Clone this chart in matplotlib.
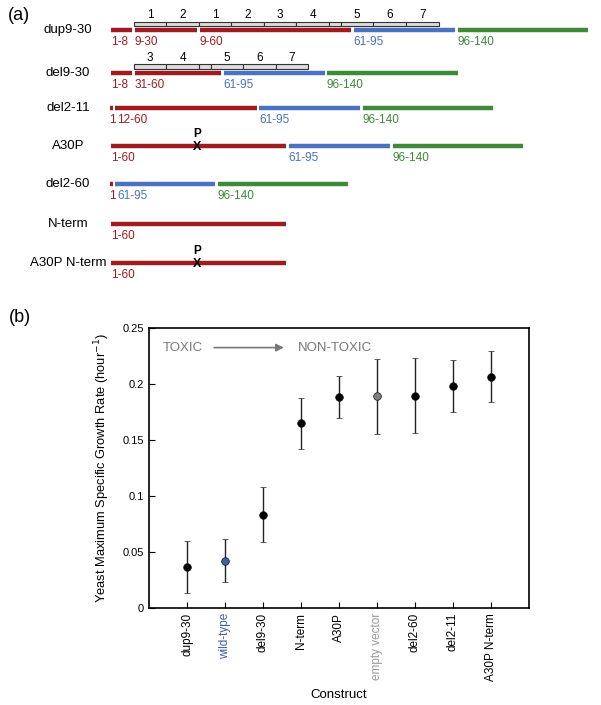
import matplotlib.pyplot as plt
from matplotlib.patches import Rectangle

plt.rcParams['font.family'] = ['Liberation Sans', 'DejaVu Sans']

red = '#9e1c20'
blue = '#4a72c0'
green = '#3d8b37'

# (a) constructs: residue ranges in order, with the label shown under each piece
construct_names = ['dup9-30', 'del9-30', 'del2-11', 'A30P', 'del2-60', 'N-term', 'A30P N-term']
construct_parts = {
    'dup9-30': [(1, 8, '1-8'), (9, 30, '9-30'), (9, 60, '9-60'), (61, 95, '61-95'), (96, 140, '96-140')],
    'del9-30': [(1, 8, '1-8'), (31, 60, '31-60'), (61, 95, '61-95'), (96, 140, '96-140')],
    'del2-11': [(1, 1, '1'), (12, 60, '12-60'), (61, 95, '61-95'), (96, 140, '96-140')],
    'A30P': [(1, 60, '1-60'), (61, 95, '61-95'), (96, 140, '96-140')],
    'del2-60': [(1, 1, '1'), (61, 95, '61-95'), (96, 140, '96-140')],
    'N-term': [(1, 60, '1-60')],
    'A30P N-term': [(1, 60, '1-60')],
}
# 11-residue repeats (blank one is the gap between 4 and 5)
repeats = [('1', 9, 19), ('2', 20, 30), ('3', 31, 41), ('4', 42, 52), ('', 53, 56),
           ('5', 57, 67), ('6', 68, 78), ('7', 79, 89)]
show_repeats = ['dup9-30', 'del9-30']
mutations = {'A30P': 30, 'A30P N-term': 30}

# (b) growth rates
constructs = ['dup9-30', 'wild-type', 'del9-30', 'N-term', 'A30P', 'empty vector',
              'del2-60', 'del2-11', 'A30P N-term']
growth = [0.0365, 0.042, 0.0833, 0.165, 0.188, 0.189, 0.1896, 0.198, 0.2065]
growth_err = [0.0232, 0.0192, 0.0244, 0.0226, 0.0188, 0.0335, 0.0333, 0.0232, 0.0227]
point_colors = ['black', '#3f5fa8', 'black', 'black', 'black', '#7f7f7f', 'black', 'black', 'black']
label_colors = ['black', '#3f5fa8', 'black', 'black', 'black', '#999999', 'black', 'black', 'black']

row_y = [30, 72.7, 107.7, 146, 184, 224, 263.3]   # px from top


def region_color(res):
    if res <= 60:
        return red
    if res <= 95:
        return blue
    return green


fig = plt.figure(figsize=(6.01, 7.05), dpi=100)

# ---------- panel (a) ----------
scale = 2.96
ax1 = fig.add_axes([0, 1 - 300 / 705, 1, 300 / 705])
ax1.set_xlim(-110 / scale, (601 - 110) / scale)
ax1.set_ylim(300, 0)
ax1.axis('off')
fig.text(0.013, 0.978, '(a)', fontsize=13, va='center')

gap = 0.45
for name, y in zip(construct_names, row_y):
    ax1.text(-14.2, y, name, ha='center', va='center', fontsize=9.5)
    pos = 0
    prev_n = None
    runs = []
    for start, end, lab in construct_parts[name]:
        n = end - start + 1
        c = region_color(start)
        if n == 1:
            ax1.hlines(y, pos - 0.1, pos + 0.95, color=c, lw=3.2)
            lx = pos - 0.3
        else:
            left = pos + gap
            lx = pos + 0.3
            if prev_n == 1:
                left = pos + 0.75
                lx = pos + 1.5
            ax1.hlines(y, left, pos + n - gap, color=c, lw=3.2)
        ax1.text(lx, y + 12, lab, color=c, fontsize=8.5, ha='left', va='center')
        if runs and runs[-1][1] == start - 1:
            runs[-1][1] = end
        else:
            runs.append([start, end, pos])
        pos += n
        prev_n = n
    if name in show_repeats:
        for s, e, off in runs:
            for lab, rs, re_ in repeats:
                if rs >= s and re_ <= e:
                    x0 = off + rs - s
                    w = re_ - rs + 1
                    ax1.add_patch(Rectangle((x0, y - 8.4), w, 4.6, facecolor='#dcdcdc',
                                            edgecolor='#333333', lw=0.8))
                    if lab:
                        ax1.text(x0 + w / 2, y - 15, lab, ha='center', va='center', fontsize=8.5)
    if name in mutations:
        xm = mutations[name] - 0.5
        ax1.text(xm, y + 0.8, 'X', ha='center', va='center', fontsize=9, fontweight='bold')
        ax1.text(xm, y - 12, 'P', ha='center', va='center', fontsize=8.5, fontweight='bold')

# ---------- panel (b) ----------
fig.text(0.015, 0.55, '(b)', fontsize=13, va='center')
ax2 = fig.add_axes([149 / 601, 1 - 608 / 705, 380 / 601, 280 / 705])
xs = list(range(1, len(constructs) + 1))
for x, g, e, c in zip(xs, growth, growth_err, point_colors):
    ax2.errorbar(x, g, yerr=e, fmt='o', color=c, mec='#111111', mew=0.5, ms=5.5,
                 ecolor='#222222', elinewidth=1, capsize=2.5, capthick=1)
ax2.set_xlim(0, 10)
ax2.set_ylim(0, 0.25)
ax2.set_yticks([0, 0.05, 0.1, 0.15, 0.2, 0.25])
ax2.set_yticklabels(['0', '0.05', '0.1', '0.15', '0.2', '0.25'])
ax2.set_xticks(xs)
ax2.set_xticklabels(constructs, rotation=90, fontsize=8.5)
for t, c in zip(ax2.get_xticklabels(), label_colors):
    t.set_color(c)
ax2.tick_params(axis='both', direction='in', length=4, width=0.8, top=False, right=False)
ax2.tick_params(axis='y', labelsize=8)
for s in ax2.spines.values():
    s.set_linewidth(1.2)
ax2.set_xlabel('Construct', fontsize=9.5, labelpad=6)
ax2.set_ylabel('Yeast Maximum Specific Growth Rate (hour$^{-1}$)', fontsize=9.3, labelpad=8)

ax2.text(0.037, 0.93, 'TOXIC', transform=ax2.transAxes, color='#777777', fontsize=9.5,
         ha='left', va='center')
ax2.text(0.392, 0.93, 'NON-TOXIC', transform=ax2.transAxes, color='#777777', fontsize=9.5,
         ha='left', va='center')
ax2.annotate('', xy=(0.362, 0.93), xytext=(0.164, 0.93), xycoords='axes fraction',
             arrowprops=dict(arrowstyle='-|>', color='#777777', lw=1.2, mutation_scale=11))

fig.savefig('out.png', dpi=100)
